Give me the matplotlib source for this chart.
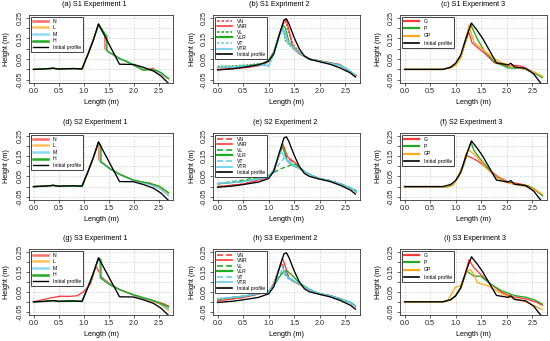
import matplotlib
matplotlib.use('Agg')
import matplotlib.pyplot as plt
from matplotlib.lines import Line2D

plt.rcParams['font.family'] = ['Liberation Sans', 'DejaVu Sans']

# ---------------- data ----------------
# Initial profiles
INIT1_x = [0, 0.2, 0.4, 0.5, 0.6, 0.8, 0.97, 1.1, 1.2, 1.3, 1.72, 2.0, 2.2, 2.4, 2.55, 2.7]
INIT1_y = [0.0, 0.002, 0.006, 0.002, 0.003, 0.004, 0.002, 0.08, 0.145, 0.22, 0.025, 0.024, 0.01, -0.008, -0.032, -0.068]

INIT2_x = [0, 0.3, 0.5, 0.8, 1.0, 1.1, 1.2, 1.3, 1.35, 1.4, 1.5, 1.6, 1.7, 1.8, 2.0, 2.2, 2.4, 2.6, 2.7]
INIT2_y = [-0.003, 0.003, 0.01, 0.022, 0.04, 0.075, 0.16, 0.24, 0.245, 0.22, 0.155, 0.1, 0.065, 0.05, 0.037, 0.025, 0.007, -0.017, -0.037]

INIT3_x = [0, 0.75, 0.9, 1.0, 1.1, 1.2, 1.31, 1.42, 1.53, 1.69, 1.8, 2.03, 2.08, 2.15, 2.37, 2.53, 2.63, 2.7]
INIT3_y = [0.0, 0.0, 0.01, 0.03, 0.07, 0.15, 0.225, 0.19, 0.15, 0.08, 0.032, 0.022, 0.03, 0.012, 0.005, -0.022, -0.055, -0.075]

# S1 Experiment 1
S1E1_N_x = [0, 0.2, 0.4, 0.5, 0.6, 0.8, 0.97, 1.1, 1.2, 1.3, 1.43, 1.43, 1.5, 1.6, 1.72, 1.85, 2.0, 2.1, 2.2, 2.3, 2.38, 2.5, 2.6, 2.7]
S1E1_N_y = [0.0, 0.002, 0.005, 0.001, 0.003, 0.004, 0.002, 0.08, 0.145, 0.22, 0.165, 0.1, 0.085, 0.07, 0.052, 0.04, 0.022, 0.012, 0.0, 0.0, 0.005, -0.012, -0.03, -0.045]
S1E1_L_x = [0, 0.2, 0.4, 0.5, 0.6, 0.8, 0.97, 1.1, 1.2, 1.3, 1.44, 1.44, 1.5, 1.6, 1.72, 1.85, 2.0, 2.1, 2.2, 2.3, 2.4, 2.5, 2.6, 2.7]
S1E1_L_y = [0.0, 0.002, 0.005, 0.001, 0.003, 0.004, 0.002, 0.08, 0.145, 0.22, 0.16, 0.1, 0.085, 0.07, 0.053, 0.04, 0.022, 0.01, -0.005, -0.003, -0.002, -0.015, -0.03, -0.045]
S1E1_M_x = [0, 0.2, 0.4, 0.5, 0.6, 0.8, 0.97, 1.1, 1.2, 1.3, 1.45, 1.45, 1.5, 1.6, 1.72, 1.85, 2.0, 2.1, 2.2, 2.3, 2.4, 2.5, 2.6, 2.7]
S1E1_M_y = [0.0, 0.002, 0.005, 0.001, 0.003, 0.004, 0.002, 0.08, 0.145, 0.215, 0.155, 0.095, 0.085, 0.07, 0.055, 0.042, 0.024, 0.012, 0.0, -0.002, -0.002, -0.012, -0.028, -0.043]
S1E1_H_x = [0, 0.2, 0.4, 0.5, 0.6, 0.8, 0.97, 1.1, 1.2, 1.3, 1.47, 1.47, 1.53, 1.6, 1.73, 1.85, 2.0, 2.1, 2.18, 2.32, 2.45, 2.55, 2.7]
S1E1_H_y = [0.0, 0.002, 0.005, 0.001, 0.003, 0.004, 0.002, 0.08, 0.145, 0.22, 0.16, 0.09, 0.08, 0.072, 0.05, 0.04, 0.02, 0.008, -0.003, 0.0, -0.005, -0.015, -0.045]

# S2 Experiment 1
S2E1_N_x = [0, 0.2, 0.4, 0.5, 0.6, 0.8, 0.97, 1.1, 1.2, 1.3, 1.31, 1.31, 1.4, 1.53, 1.73, 1.99, 2.2, 2.32, 2.4, 2.51, 2.6, 2.7]
S2E1_N_y = [0.0, 0.002, 0.006, 0.002, 0.003, 0.004, 0.002, 0.08, 0.145, 0.22, 0.21, 0.132, 0.113, 0.088, 0.06, 0.032, 0.02, 0.018, 0.01, 0.0, -0.015, -0.032]
S2E1_L_x = [0, 0.2, 0.4, 0.5, 0.6, 0.8, 0.97, 1.1, 1.2, 1.3, 1.32, 1.32, 1.4, 1.53, 1.73, 1.99, 2.2, 2.32, 2.4, 2.51, 2.6, 2.7]
S2E1_L_y = [0.0, 0.002, 0.006, 0.002, 0.003, 0.004, 0.002, 0.08, 0.145, 0.22, 0.205, 0.128, 0.112, 0.088, 0.06, 0.032, 0.02, 0.013, 0.008, 0.0, -0.015, -0.035]
S2E1_M_x = [0, 0.2, 0.4, 0.5, 0.6, 0.8, 0.97, 1.1, 1.2, 1.29, 1.33, 1.33, 1.4, 1.53, 1.73, 1.99, 2.2, 2.32, 2.4, 2.51, 2.6, 2.7]
S2E1_M_y = [0.0, 0.002, 0.006, 0.002, 0.003, 0.004, 0.002, 0.08, 0.145, 0.215, 0.2, 0.125, 0.11, 0.086, 0.058, 0.03, 0.018, 0.01, 0.003, -0.008, -0.025, -0.045]
S2E1_H_x = [0, 0.2, 0.4, 0.5, 0.6, 0.8, 0.97, 1.1, 1.2, 1.3, 1.35, 1.35, 1.4, 1.53, 1.73, 1.99, 2.2, 2.32, 2.4, 2.51, 2.6, 2.7]
S2E1_H_y = [0.0, 0.002, 0.006, 0.002, 0.003, 0.004, 0.002, 0.08, 0.145, 0.22, 0.2, 0.12, 0.113, 0.088, 0.06, 0.033, 0.022, 0.016, 0.01, 0.003, -0.012, -0.03]

# S3 Experiment 1
S3E1_N_x = [0, 0.35, 0.54, 0.7, 0.87, 1.0, 1.14, 1.25, 1.31, 1.35, 1.5, 1.73, 1.99, 2.2, 2.32, 2.51, 2.6, 2.7]
S3E1_N_y = [0.0, 0.02, 0.028, 0.027, 0.03, 0.05, 0.09, 0.178, 0.15, 0.125, 0.095, 0.06, 0.036, 0.02, 0.012, -0.003, -0.01, -0.021]
S3E1_L_x = [0, 0.2, 0.4, 0.5, 0.6, 0.8, 0.97, 1.1, 1.2, 1.3, 1.33, 1.33, 1.4, 1.53, 1.73, 1.99, 2.2, 2.32, 2.51, 2.6, 2.7]
S3E1_L_y = [0.0, 0.002, 0.006, 0.002, 0.003, 0.004, 0.002, 0.08, 0.145, 0.215, 0.2, 0.12, 0.11, 0.085, 0.06, 0.033, 0.016, 0.006, -0.01, -0.025, -0.042]
S3E1_M_x = [0, 0.2, 0.4, 0.5, 0.6, 0.8, 0.97, 1.1, 1.2, 1.29, 1.33, 1.33, 1.4, 1.53, 1.73, 1.99, 2.2, 2.32, 2.51, 2.6, 2.7]
S3E1_M_y = [0.0, 0.002, 0.006, 0.002, 0.003, 0.004, 0.002, 0.08, 0.145, 0.21, 0.19, 0.12, 0.11, 0.085, 0.06, 0.034, 0.018, 0.01, -0.006, -0.02, -0.035]
S3E1_H_x = [0, 0.2, 0.4, 0.5, 0.6, 0.8, 0.97, 1.1, 1.2, 1.3, 1.35, 1.35, 1.4, 1.53, 1.73, 1.99, 2.2, 2.32, 2.51, 2.6, 2.7]
S3E1_H_y = [0.0, 0.002, 0.006, 0.002, 0.003, 0.004, 0.002, 0.08, 0.145, 0.22, 0.21, 0.118, 0.108, 0.085, 0.06, 0.036, 0.02, 0.012, -0.005, -0.015, -0.026]

# S1 Experiment 2
S1E2_VN_x = [0, 0.3, 0.6, 0.9, 1.0, 1.1, 1.2, 1.28, 1.33, 1.4, 1.5, 1.6, 1.8, 2.0, 2.2, 2.4, 2.55, 2.7]
S1E2_VN_y = [0.0, 0.005, 0.012, 0.025, 0.04, 0.08, 0.16, 0.22, 0.235, 0.17, 0.115, 0.085, 0.05, 0.04, 0.032, 0.022, -0.002, -0.033]
S1E2_VNR_x = [0, 0.3, 0.6, 0.9, 1.0, 1.1, 1.2, 1.3, 1.34, 1.4, 1.47, 1.6, 1.84, 2.05, 2.25, 2.39, 2.52, 2.72]
S1E2_VNR_y = [0.0, 0.004, 0.01, 0.022, 0.04, 0.075, 0.16, 0.235, 0.245, 0.19, 0.105, 0.075, 0.048, 0.04, 0.03, 0.024, 0.0, -0.03]
S1E2_VL_x = [0, 0.3, 0.6, 0.9, 1.0, 1.1, 1.2, 1.27, 1.33, 1.4, 1.5, 1.6, 1.8, 2.0, 2.2, 2.4, 2.55, 2.7]
S1E2_VL_y = [0.015, 0.017, 0.022, 0.03, 0.045, 0.08, 0.16, 0.21, 0.14, 0.12, 0.1, 0.08, 0.05, 0.04, 0.03, 0.02, 0.0, -0.03]
S1E2_VLR_x = [0, 0.3, 0.6, 0.9, 1.0, 1.1, 1.2, 1.28, 1.33, 1.4, 1.5, 1.6, 1.8, 2.0, 2.2, 2.4, 2.55, 2.7]
S1E2_VLR_y = [0.01, 0.012, 0.018, 0.028, 0.045, 0.085, 0.165, 0.215, 0.2, 0.13, 0.105, 0.08, 0.048, 0.04, 0.03, 0.018, 0.0, -0.032]
S1E2_VT_x = [0, 0.3, 0.6, 0.9, 1.0, 1.1, 1.2, 1.27, 1.33, 1.4, 1.5, 1.6, 1.8, 2.0, 2.2, 2.4, 2.55, 2.7]
S1E2_VT_y = [0.01, 0.012, 0.016, 0.02, 0.012, 0.07, 0.15, 0.19, 0.15, 0.12, 0.1, 0.08, 0.05, 0.038, 0.028, 0.018, -0.002, -0.03]
S1E2_VTR_x = [0, 0.3, 0.6, 0.9, 1.0, 1.1, 1.2, 1.28, 1.33, 1.4, 1.5, 1.6, 1.8, 2.0, 2.2, 2.4, 2.55, 2.7]
S1E2_VTR_y = [0.01, 0.012, 0.017, 0.022, 0.02, 0.08, 0.16, 0.2, 0.17, 0.125, 0.1, 0.08, 0.05, 0.04, 0.03, 0.02, 0.0, -0.028]

# S2 Experiment 2
S2E2_VN_x = [0, 0.5, 1.0, 1.1, 1.2, 1.27, 1.37, 1.54, 1.6, 1.78, 1.98, 2.18, 2.39, 2.59, 2.72]
S2E2_VN_y = [0.0, 0.012, 0.045, 0.08, 0.15, 0.2, 0.14, 0.11, 0.09, 0.063, 0.04, 0.032, 0.015, -0.005, -0.025]
S2E2_VNR_x = [0, 0.5, 1.0, 1.1, 1.2, 1.28, 1.37, 1.54, 1.6, 1.78, 1.98, 2.18, 2.39, 2.59, 2.72]
S2E2_VNR_y = [0.0, 0.012, 0.046, 0.08, 0.15, 0.21, 0.146, 0.112, 0.09, 0.063, 0.038, 0.03, 0.015, -0.007, -0.028]
S2E2_VL_x = [0, 0.5, 1.0, 1.24, 1.5, 1.6, 1.78, 1.98, 2.18, 2.39, 2.59, 2.72]
S2E2_VL_y = [0.015, 0.032, 0.055, 0.088, 0.112, 0.095, 0.063, 0.04, 0.03, 0.015, -0.004, -0.02]
S2E2_VLR_x = [0, 0.5, 1.0, 1.1, 1.2, 1.27, 1.36, 1.5, 1.6, 1.78, 1.98, 2.18, 2.39, 2.59, 2.72]
S2E2_VLR_y = [0.013, 0.025, 0.05, 0.08, 0.15, 0.2, 0.13, 0.1, 0.09, 0.063, 0.04, 0.03, 0.014, -0.005, -0.024]
S2E2_VT_x = [0, 0.5, 1.0, 1.1, 1.2, 1.3, 1.4, 1.5, 1.6, 1.78, 1.98, 2.18, 2.39, 2.59, 2.72]
S2E2_VT_y = [0.015, 0.025, 0.045, 0.07, 0.11, 0.14, 0.115, 0.1, 0.09, 0.062, 0.04, 0.03, 0.013, -0.006, -0.026]
S2E2_VTR_x = [0, 0.5, 1.0, 1.1, 1.2, 1.24, 1.34, 1.5, 1.6, 1.78, 1.98, 2.18, 2.39, 2.59, 2.72]
S2E2_VTR_y = [0.015, 0.025, 0.048, 0.08, 0.15, 0.175, 0.135, 0.105, 0.09, 0.063, 0.04, 0.03, 0.014, -0.006, -0.026]

# S3 Experiment 2
S3E2_VN_x = [0, 0.5, 1.0, 1.1, 1.18, 1.25, 1.35, 1.5, 1.6, 1.8, 2.0, 2.2, 2.4, 2.6, 2.7]
S3E2_VN_y = [0.005, 0.022, 0.05, 0.09, 0.15, 0.2, 0.13, 0.1, 0.088, 0.06, 0.04, 0.03, 0.016, -0.004, -0.022]
S3E2_VNR_x = [0, 0.5, 1.0, 1.1, 1.2, 1.27, 1.4, 1.5, 1.6, 1.8, 2.0, 2.2, 2.4, 2.6, 2.7]
S3E2_VNR_y = [0.005, 0.022, 0.05, 0.09, 0.16, 0.22, 0.12, 0.1, 0.09, 0.06, 0.04, 0.032, 0.015, -0.005, -0.025]
S3E2_VL_x = [0, 0.5, 1.0, 1.1, 1.2, 1.3, 1.4, 1.5, 1.6, 1.8, 2.0, 2.2, 2.4, 2.6, 2.7]
S3E2_VL_y = [0.015, 0.028, 0.05, 0.08, 0.13, 0.15, 0.12, 0.1, 0.088, 0.06, 0.04, 0.03, 0.015, -0.005, -0.02]
S3E2_VLR_x = [0, 0.5, 1.0, 1.1, 1.2, 1.3, 1.37, 1.45, 1.6, 1.8, 2.0, 2.2, 2.4, 2.6, 2.7]
S3E2_VLR_y = [0.013, 0.027, 0.05, 0.08, 0.12, 0.155, 0.153, 0.135, 0.095, 0.062, 0.04, 0.03, 0.016, -0.003, -0.02]
S3E2_VT_x = [0, 0.5, 1.0, 1.1, 1.2, 1.26, 1.35, 1.5, 1.6, 1.8, 2.0, 2.2, 2.4, 2.6, 2.7]
S3E2_VT_y = [0.015, 0.027, 0.05, 0.08, 0.13, 0.16, 0.12, 0.1, 0.09, 0.06, 0.04, 0.03, 0.015, -0.004, -0.022]
S3E2_VTR_x = [0, 0.5, 1.0, 1.1, 1.18, 1.24, 1.34, 1.5, 1.6, 1.8, 2.0, 2.2, 2.4, 2.6, 2.7]
S3E2_VTR_y = [0.015, 0.028, 0.05, 0.085, 0.15, 0.19, 0.13, 0.105, 0.09, 0.06, 0.04, 0.03, 0.015, -0.005, -0.023]

# S1 Experiment 3
S1E3_G_x = [0, 0.75, 0.9, 1.0, 1.1, 1.2, 1.26, 1.32, 1.39, 1.56, 1.76, 2.03, 2.1, 2.16, 2.3, 2.5, 2.69]
S1E3_G_y = [0.0, 0.0, 0.012, 0.027, 0.06, 0.14, 0.18, 0.13, 0.114, 0.08, 0.032, 0.015, 0.02, 0.02, 0.015, -0.01, -0.037]
S1E3_P_x = [0, 0.75, 0.9, 1.0, 1.1, 1.2, 1.29, 1.42, 1.56, 1.76, 2.03, 2.3, 2.5, 2.7]
S1E3_P_y = [0.0, 0.0, 0.008, 0.022, 0.06, 0.14, 0.22, 0.15, 0.09, 0.037, 0.007, 0.005, -0.012, -0.04]
S1E3_GP_x = [0, 0.75, 0.9, 1.0, 1.1, 1.2, 1.26, 1.36, 1.53, 1.73, 1.9, 2.1, 2.37, 2.57, 2.7]
S1E3_GP_y = [0.0, 0.0, 0.008, 0.02, 0.055, 0.15, 0.215, 0.13, 0.097, 0.056, 0.032, 0.015, 0.0, -0.017, -0.034]

# S2 Experiment 3
S2E3_G_x = [0, 0.85, 0.95, 1.05, 1.15, 1.22, 1.42, 1.63, 1.83, 2.03, 2.23, 2.43, 2.57, 2.69]
S2E3_G_y = [0.0, 0.0, 0.01, 0.05, 0.11, 0.153, 0.128, 0.088, 0.048, 0.023, 0.015, 0.003, -0.02, -0.04]
S2E3_P_x = [0, 0.85, 0.95, 1.05, 1.15, 1.22, 1.3, 1.36, 1.5, 1.65, 1.8, 2.0, 2.2, 2.4, 2.55, 2.7]
S2E3_P_y = [0.0, 0.0, 0.01, 0.045, 0.1, 0.16, 0.218, 0.177, 0.13, 0.085, 0.045, 0.022, 0.01, 0.005, -0.012, -0.045]
S2E3_GP_x = [0, 0.85, 0.95, 1.05, 1.15, 1.2, 1.26, 1.42, 1.6, 1.8, 2.0, 2.2, 2.4, 2.55, 2.7]
S2E3_GP_y = [0.0, 0.0, 0.01, 0.045, 0.11, 0.16, 0.18, 0.145, 0.09, 0.045, 0.02, 0.008, 0.0, -0.015, -0.038]

# S3 Experiment 3
S3E3_G_x = [0, 0.75, 0.9, 1.0, 1.1, 1.2, 1.26, 1.36, 1.49, 1.69, 1.9, 2.1, 2.37, 2.57, 2.7]
S3E3_G_y = [0.0, 0.0, 0.01, 0.03, 0.07, 0.15, 0.21, 0.17, 0.137, 0.088, 0.047, 0.026, 0.015, -0.001, -0.017]
S3E3_P_x = [0, 0.75, 0.9, 1.0, 1.1, 1.22, 1.36, 1.49, 1.69, 1.9, 2.16, 2.37, 2.57, 2.7]
S3E3_P_y = [0.0, 0.0, 0.01, 0.03, 0.07, 0.153, 0.128, 0.128, 0.088, 0.055, 0.031, 0.023, 0.007, -0.012]
S3E3_GP_x = [0, 0.75, 0.85, 0.92, 0.99, 1.09, 1.22, 1.29, 1.36, 1.42, 1.63, 1.9, 2.16, 2.43, 2.69]
S3E3_GP_y = [0.0, 0.0, 0.01, 0.04, 0.072, 0.08, 0.153, 0.16, 0.136, 0.096, 0.08, 0.04, 0.015, -0.006, -0.039]

XTICKS = [0.0, 0.5, 1.0, 1.5, 2.0, 2.5]
XTICKLABELS = ['0.0', '0.5', '1.0', '1.5', '2.0', '2.5']
YTICKS = [-0.05, 0.0, 0.05, 0.10, 0.15, 0.20, 0.25]
YTICKLABELS = ['-0.05', '', '0.05', '', '0.15', '', '0.25']

TITLES = [['(a) S1 Experiment 1', '(b) S1 Expriment 2', '(c) S1 Experiment 3'],
          ['(d) S2 Experiment 1', '(e) S2 Experiment 2', '(f) S2 Experiment 3'],
          ['(g) S3 Experiment 1', '(h) S3 Experiment 2', '(i) S3 Experiment 3']]

# ---------------- styles ----------------
RED = '#FF3B3B'
ORANGE = '#FFAA22'
CYAN = '#66CCEE'
GREEN = '#22AA22'

W, H = 550, 341
fig = plt.figure(figsize=(5.5, 3.41), dpi=100)

COLS = [(29, 144), (213, 147), (400, 147)]
ROWS = [(15, 68), (133, 67), (249, 66)]
TITLE_X = [[94, 279, 473], [95, 285, 471], [95, 285, 475]]
YLABEL_X = [7, 192, 378]

FS = 5.2


def make_ax(r, c):
    x0, w = COLS[c]
    y0, h = ROWS[r]
    ax = fig.add_axes([x0 / W, 1 - (y0 + h) / H, w / W, h / H])
    ax.set_xlim(-0.09, 2.79)
    ax.set_ylim(-0.066, 0.264)
    ax.set_xticks(XTICKS)
    ax.set_xticklabels(XTICKLABELS)
    ax.set_yticks(YTICKS)
    ax.set_yticklabels(YTICKLABELS, rotation=90, va='center')
    ax.tick_params(direction='out', length=2.2, width=0.5, labelsize=FS, pad=1.5, colors='#222222')
    for s in ax.spines.values():
        s.set_linewidth(0.6)
        s.set_color('#333333')
    ax.grid(True, color='#C8C8C8', linestyle=(0, (2, 2)), linewidth=0.5)
    ax.set_axisbelow(True)
    fig.text(TITLE_X[r][c] / W, 1 - (y0 - 10) / H, TITLES[r][c], ha='center', va='center', fontsize=FS)
    fig.text((x0 + w / 2) / W, 1 - (y0 + h + 19.5) / H, 'Length (m)', ha='center', va='center', fontsize=FS)
    fig.text(YLABEL_X[c] / W, 1 - (y0 + h / 2) / H, 'Height (m)', ha='center', va='center',
             fontsize=FS, rotation=90)
    return ax


def add_legend(ax, handles, labels, spacing):
    leg = ax.legend(handles, labels, loc='upper left', bbox_to_anchor=(0.012, 0.975),
                    borderaxespad=0, fontsize=3.7, handlelength=3.0, handletextpad=0.9,
                    labelspacing=spacing, borderpad=0.4, fancybox=False, framealpha=1,
                    edgecolor='#222222')
    leg.get_frame().set_linewidth(0.6)


LW = 0.95

# Experiment 1 panels
exp1 = [
    (S1E1_N_x, S1E1_N_y, S1E1_L_x, S1E1_L_y, S1E1_M_x, S1E1_M_y, S1E1_H_x, S1E1_H_y),
    (S2E1_N_x, S2E1_N_y, S2E1_L_x, S2E1_L_y, S2E1_M_x, S2E1_M_y, S2E1_H_x, S2E1_H_y),
    (S3E1_N_x, S3E1_N_y, S3E1_L_x, S3E1_L_y, S3E1_M_x, S3E1_M_y, S3E1_H_x, S3E1_H_y),
]
for r, (nx, ny, lx, ly, mx, my, hx, hy) in enumerate(exp1):
    ax = make_ax(r, 0)
    ax.plot(nx, ny, color=RED, lw=LW)
    ax.plot(lx, ly, color=ORANGE, lw=LW)
    ax.plot(mx, my, color=CYAN, lw=LW)
    ax.plot(hx, hy, color=GREEN, lw=LW)
    ax.plot(INIT1_x, INIT1_y, color='black', lw=LW)
    hs = [Line2D([], [], color=RED, lw=1.8, alpha=0.75), Line2D([], [], color=ORANGE, lw=1.8, alpha=0.75),
          Line2D([], [], color=CYAN, lw=1.8, alpha=0.75), Line2D([], [], color=GREEN, lw=1.8),
          Line2D([], [], color='black', lw=1.0)]
    add_legend(ax, hs, ['N', 'L', 'M', 'H', 'Initial profile'], 0.3)

# Experiment 2 panels
exp2 = [
    (S1E2_VN_x, S1E2_VN_y, S1E2_VNR_x, S1E2_VNR_y, S1E2_VL_x, S1E2_VL_y, S1E2_VLR_x, S1E2_VLR_y,
     S1E2_VT_x, S1E2_VT_y, S1E2_VTR_x, S1E2_VTR_y),
    (S2E2_VN_x, S2E2_VN_y, S2E2_VNR_x, S2E2_VNR_y, S2E2_VL_x, S2E2_VL_y, S2E2_VLR_x, S2E2_VLR_y,
     S2E2_VT_x, S2E2_VT_y, S2E2_VTR_x, S2E2_VTR_y),
    (S3E2_VN_x, S3E2_VN_y, S3E2_VNR_x, S3E2_VNR_y, S3E2_VL_x, S3E2_VL_y, S3E2_VLR_x, S3E2_VLR_y,
     S3E2_VT_x, S3E2_VT_y, S3E2_VTR_x, S3E2_VTR_y),
]
for r, d in enumerate(exp2):
    ax = make_ax(r, 1)
    dash = (0, (1.5, 1.2)) if r == 0 else (0, (3.5, 2.0))
    ax.plot(d[0], d[1], color=RED, lw=LW, linestyle=dash)
    ax.plot(d[2], d[3], color=RED, lw=LW)
    ax.plot(d[4], d[5], color=GREEN, lw=LW, linestyle=dash)
    ax.plot(d[6], d[7], color=GREEN, lw=LW)
    ax.plot(d[8], d[9], color=CYAN, lw=LW, linestyle=dash)
    ax.plot(d[10], d[11], color=CYAN, lw=LW)
    ax.plot(INIT2_x, INIT2_y, color='black', lw=LW)
    hs = [Line2D([], [], color=RED, lw=1.2, linestyle=dash), Line2D([], [], color=RED, lw=1.2),
          Line2D([], [], color=GREEN, lw=1.2, linestyle=dash), Line2D([], [], color=GREEN, lw=1.6),
          Line2D([], [], color=CYAN, lw=1.2, linestyle=dash), Line2D([], [], color=CYAN, lw=1.2),
          Line2D([], [], color='black', lw=1.2)]
    add_legend(ax, hs, ['VN', 'VNR', 'VL', 'VLR', 'VT', 'VTR', 'Initial profile'], 0.1)

# Experiment 3 panels
exp3 = [
    (S1E3_G_x, S1E3_G_y, S1E3_P_x, S1E3_P_y, S1E3_GP_x, S1E3_GP_y),
    (S2E3_G_x, S2E3_G_y, S2E3_P_x, S2E3_P_y, S2E3_GP_x, S2E3_GP_y),
    (S3E3_G_x, S3E3_G_y, S3E3_P_x, S3E3_P_y, S3E3_GP_x, S3E3_GP_y),
]
for r, d in enumerate(exp3):
    ax = make_ax(r, 2)
    ax.plot(d[0], d[1], color=RED, lw=LW)
    ax.plot(d[2], d[3], color=GREEN, lw=LW)
    ax.plot(d[4], d[5], color=ORANGE, lw=LW)
    ax.plot(INIT3_x, INIT3_y, color='black', lw=LW)
    hs = [Line2D([], [], color=RED, lw=1.6), Line2D([], [], color=GREEN, lw=1.6),
          Line2D([], [], color=ORANGE, lw=1.6), Line2D([], [], color='black', lw=1.2)]
    add_legend(ax, hs, ['G', 'P', 'GP', 'Initial profile'], 0.45)

fig.savefig('out.png', dpi=100)
